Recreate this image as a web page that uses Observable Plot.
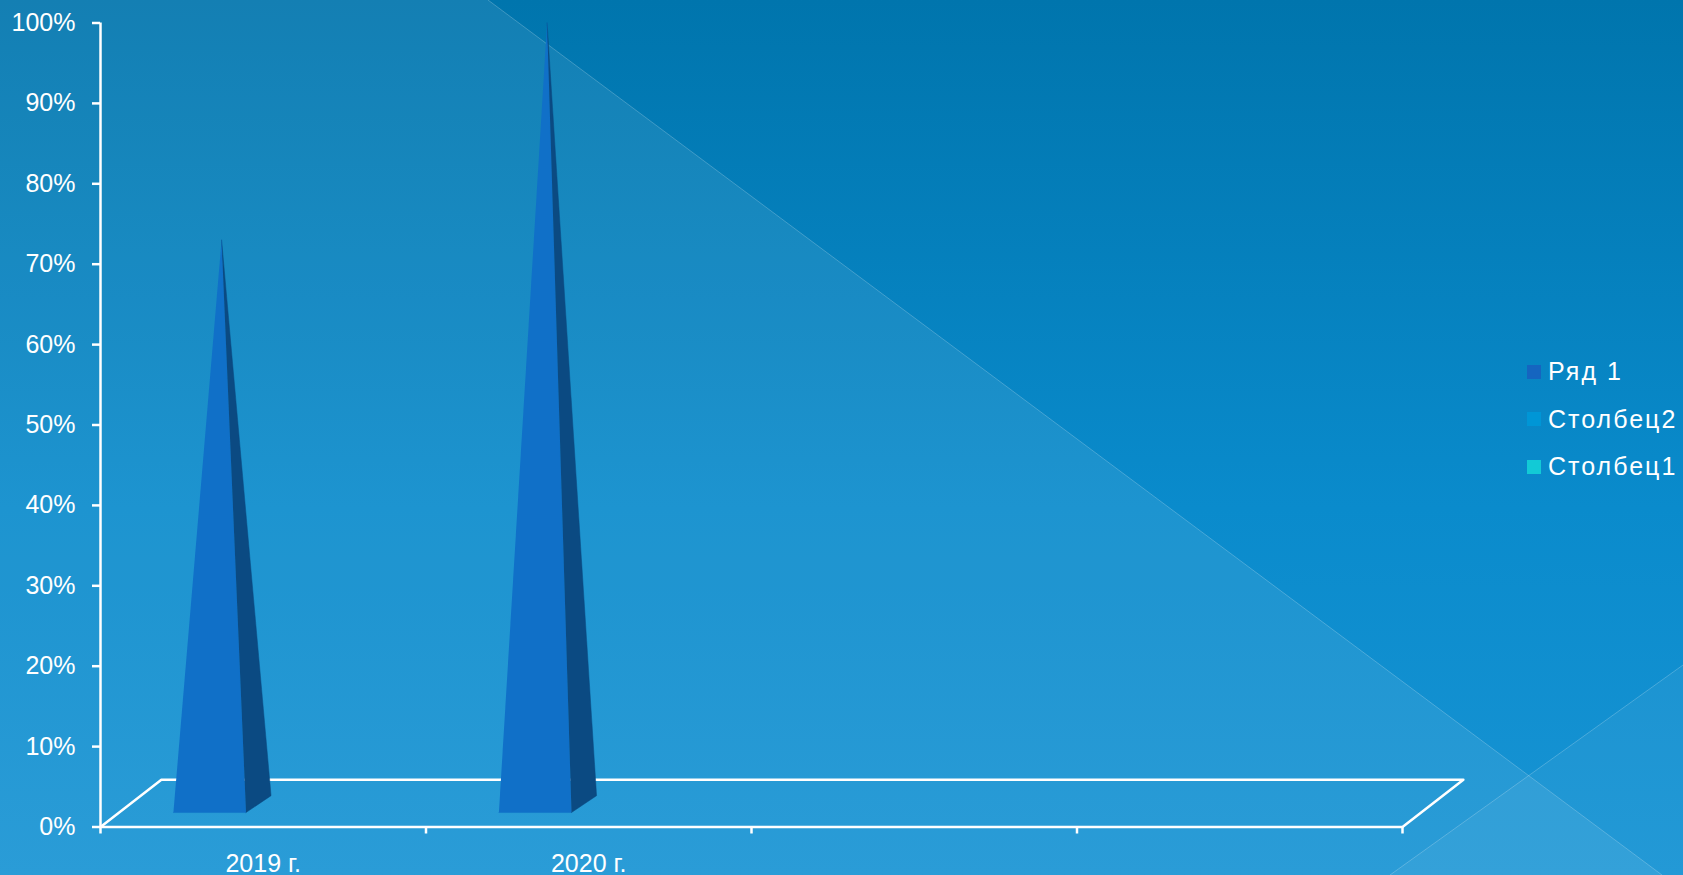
<!DOCTYPE html>
<html>
<head>
<meta charset="utf-8">
<script src="https://cdn.jsdelivr.net/npm/d3@7"></script>
<script src="https://cdn.jsdelivr.net/npm/@observablehq/plot@0.6"></script>
<style>
  html, body { margin: 0; padding: 0; overflow: hidden; background: #0A86C4; }
  #wrap {
    position: relative; width: 1683px; height: 875px; overflow: hidden;
    background: linear-gradient(180deg, #0075AD 0%, #0A8BCC 58%, #1894D4 100%);
    font-family: "Liberation Sans", "DejaVu Sans", sans-serif;
  }
  #bg, #chart { position: absolute; left: 0; top: 0; }
  #legend { position: absolute; left: 1527px; top: 348px; color: #fff; font-size: 25px; letter-spacing: 2px; }
  #legend .item { display: flex; align-items: center; height: 47.5px; white-space: nowrap; }
  #legend .sw { width: 14px; height: 14px; margin-right: 7px; flex: none; }
</style>
</head>
<body>
<div id="wrap">
  <div id="bg"></div>
  <div id="chart"></div>
  <div id="legend"></div>
</div>
<script>
// ---- data ----
const categories = ["2019 г.", "2020 г.", "", ""];
const seriesNames = ["Ряд 1", "Столбец2", "Столбец1"];
const seriesColors = ["#1565C0", "#0096D6", "#12CAD6"];
const row1 = [0.73, 1.0, null, null];
const yTicks = [0, 0.1, 0.2, 0.3, 0.4, 0.5, 0.6, 0.7, 0.8, 0.9, 1.0];

// ---- 3D look constants (in scale units) ----
const DEPTH_X = 0.187, DEPTH_Y = 0.0587;    // floor depth
const BAR_L = 0.224, BAR_R = 0.447, BAR_APEX = 0.372, BAR_BASE = 0.018;
const BAR_DX = 0.077, BAR_DY = 0.021;
const FRONT_COLOR = "#1070C8", SIDE_COLOR = "#0B4A82";

const W = 1683, H = 875;

// background decoration
(function () {
  const svg = d3.select("#bg").append("svg").attr("width", W).attr("height", H);
  svg.append("polygon").attr("points", "0,0 488,0 1662,875 0,875").attr("fill", "#fff").attr("fill-opacity", 0.08);
  svg.append("polygon").attr("points", "1390,875 1683,665 1683,875").attr("fill", "#fff").attr("fill-opacity", 0.05);
  svg.append("line").attr("x1", 488).attr("y1", 0).attr("x2", 1662).attr("y2", 875).attr("stroke", "#fff").attr("stroke-opacity", 0.22);
  svg.append("line").attr("x1", 1390).attr("y1", 875).attr("x2", 1683).attr("y2", 665).attr("stroke", "#fff").attr("stroke-opacity", 0.22);
})();

// build geometry from data
const n = categories.length;
const floor = [
  {x: 0, y: 0},
  {x: DEPTH_X, y: DEPTH_Y},
  {x: n + DEPTH_X, y: DEPTH_Y},
  {x: n, y: 0}
];
const fronts = [], sides = [];
row1.forEach((v, i) => {
  if (v == null) return;
  fronts.push({id: i, x: i + BAR_L, y: BAR_BASE}, {id: i, x: i + BAR_R, y: BAR_BASE}, {id: i, x: i + BAR_APEX, y: v});
  sides.push({id: i, x: i + BAR_R, y: BAR_BASE}, {id: i, x: i + BAR_R + BAR_DX, y: BAR_BASE + BAR_DY}, {id: i, x: i + BAR_APEX, y: v});
});

const chart = Plot.plot({
  width: W,
  height: H,
  marginLeft: 100,
  marginTop: 22.5,
  marginRight: 281,
  marginBottom: 48.5,
  style: { background: "transparent", color: "#fff", fontFamily: "'Liberation Sans', 'DejaVu Sans', sans-serif", overflow: "visible" },
  x: { domain: [0, n], axis: null },
  y: { domain: [0, 1], axis: null },
  marks: [
    Plot.line(floor, {x: "x", y: "y", stroke: "#fff", strokeWidth: 2.5, curve: "linear"}),
    Plot.ruleY([0], {stroke: "#fff", strokeWidth: 2.5}),
    Plot.ruleX([0], {stroke: "#fff", strokeWidth: 2.5}),
    Plot.line(fronts, {x: "x", y: "y", z: "id", fill: FRONT_COLOR, stroke: FRONT_COLOR, strokeWidth: 0.5}),
    Plot.line(sides, {x: "x", y: "y", z: "id", fill: SIDE_COLOR, stroke: SIDE_COLOR, strokeWidth: 0.5}),
    Plot.axisY({ticks: yTicks, tickFormat: d3.format(".0%"), tickSize: 8, tickPadding: 17, stroke: "#fff", strokeWidth: 2.5, fill: "#fff", fontSize: 25, label: null}),
    Plot.axisX({ticks: d3.range(n + 1), tickSize: 7, tickFormat: () => "", stroke: "#fff", strokeWidth: 2.5, label: null}),
    Plot.text(categories, {x: (d, i) => i + 0.5, y: () => 0, dy: 36.5, text: d => d, fill: "#fff", fontSize: 25})
  ]
});
document.getElementById("chart").appendChild(chart);

// legend
const legend = d3.select("#legend");
seriesNames.forEach((s, i) => {
  const it = legend.append("div").attr("class", "item");
  it.append("div").attr("class", "sw").style("background", seriesColors[i]);
  it.append("span").text(s);
});
</script>
</body>
</html>
